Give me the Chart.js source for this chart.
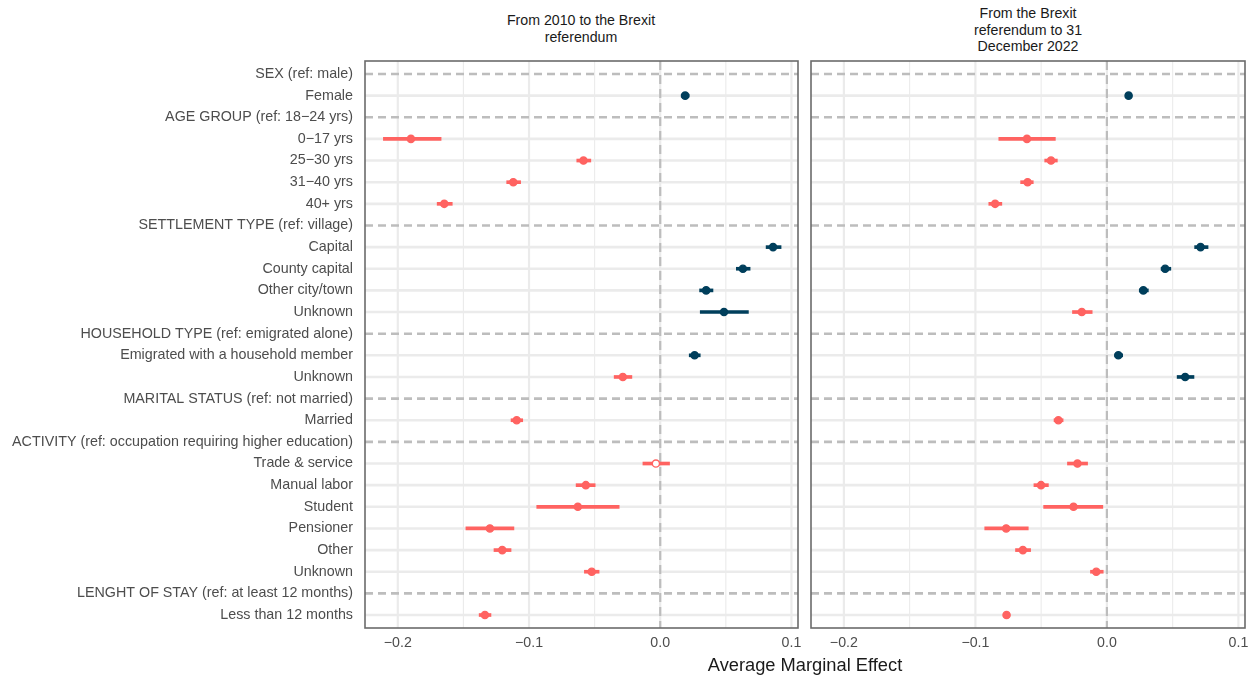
<!DOCTYPE html>
<html>
<head>
<meta charset="utf-8">
<script src="https://cdn.jsdelivr.net/npm/chart.js@4.4.0/dist/chart.umd.min.js"></script>
<style>
    html, body { margin: 0; padding: 0; background: #ffffff; }
    body { width: 1256px; height: 677px; position: relative; overflow: hidden; font-family: "Liberation Sans", Arial, sans-serif; }
    .panel-title { position: absolute; text-align: center; font-size: 14.2px; line-height: 16.5px; color: #1a1a1a; width: 300px; }
    #leftWrap { position: absolute; left: 0; top: 0; width: 805px; height: 677px; }
    #rightWrap { position: absolute; left: 805px; top: 0; width: 451px; height: 677px; }
    #xTitle { position: absolute; left: 0; width: 1610px; top: 654px; text-align: center; font-size: 18.3px; color: #1a1a1a; }
</style>
</head>
<body>
<div class="panel-title" style="left: 431px; top: 12px;">From 2010 to the Brexit<br>referendum</div>
<div class="panel-title" style="left: 878px; top: 5px;">From the Brexit<br>referendum to 31<br>December 2022</div>
<div id="leftWrap"><canvas id="leftChart"></canvas></div>
<div id="rightWrap"><canvas id="rightChart"></canvas></div>
<div id="xTitle">Average Marginal Effect</div>

<script>
const rowLabels = [
    'SEX (ref: male)', 'Female',
    'AGE GROUP (ref: 18\u221224 yrs)', '0\u221217 yrs', '25\u221230 yrs', '31\u221240 yrs', '40+ yrs',
    'SETTLEMENT TYPE (ref: village)', 'Capital', 'County capital', 'Other city/town', 'Unknown',
    'HOUSEHOLD TYPE (ref: emigrated alone)', 'Emigrated with a household member', 'Unknown',
    'MARITAL STATUS (ref: not married)', 'Married',
    'ACTIVITY (ref: occupation requiring higher education)', 'Trade & service', 'Manual labor', 'Student', 'Pensioner', 'Other', 'Unknown',
    'LENGHT OF STAY (ref: at least 12 months)', 'Less than 12 months'
];
const headerRows = [0, 2, 7, 12, 15, 17, 24];

// 2010 -> Brexit referendum
const preEst  = [null, 0.019, null, -0.190, -0.0585, -0.112, -0.1646, null, 0.086, 0.063, 0.035, 0.0486, null, 0.0262, -0.0285, null, -0.1094, null, -0.0033, -0.0567, -0.0628, -0.1298, -0.1204, -0.0522, null, -0.1336];
const preLow  = [null, 0.016, null, -0.211, -0.0636, -0.117, -0.170, null, 0.0807, 0.058, 0.030, 0.0305, null, 0.0221, -0.0351, null, -0.1137, null, -0.0132, -0.0641, -0.0941, -0.1481, -0.1267, -0.0578, null, -0.138];
const preHigh = [null, 0.022, null, -0.167, -0.0529, -0.1064, -0.1585, null, 0.0921, 0.0685, 0.0402, 0.0672, null, 0.0305, -0.0216, null, -0.1048, null, 0.0071, -0.0496, -0.0313, -0.1115, -0.1137, -0.0466, null, -0.129];

// Brexit referendum -> 31 December 2022
const postEst  = [null, 0.0165, null, -0.0608, -0.0425, -0.0603, -0.085, null, 0.0712, 0.0443, 0.0277, -0.0191, null, 0.0087, 0.0595, null, -0.0369, null, -0.0224, -0.0501, -0.0254, -0.0766, -0.0639, -0.0081, null, -0.0763];
const postLow  = [null, 0.0145, null, -0.0822, -0.0473, -0.0656, -0.0898, null, 0.0667, 0.0412, 0.0246, -0.0262, null, 0.006, 0.0534, null, -0.0402, null, -0.030, -0.0555, -0.0481, -0.0929, -0.0695, -0.0125, null, -0.0783];
const postHigh = [null, 0.0185, null, -0.0392, -0.0377, -0.056, -0.0799, null, 0.0769, 0.0486, 0.0315, -0.0112, null, 0.012, 0.0662, null, -0.0333, null, -0.0147, -0.0445, -0.0031, -0.0598, -0.058, -0.0028, null, -0.0743];

const xTicks = [-0.2, -0.1, 0.0, 0.1];
const xMinorTicks = [-0.15, -0.05, 0.05];

const RED = '#ff6361';
const BLUE = '#003f5c';
const FONT = '"Liberation Sans", Arial, sans-serif';

const panelGrid = {
    id: 'panelGrid',
    beforeDatasetsDraw(chart) {
        const { ctx, chartArea: a, scales: { x, y } } = chart;
        ctx.save();
        ctx.beginPath();
        ctx.rect(a.left, a.top, a.width, a.height);
        ctx.clip();

        const vline = (v, w, color, dash) => {
            const px = x.getPixelForValue(v);
            ctx.beginPath();
            ctx.setLineDash(dash);
            ctx.lineWidth = w;
            ctx.strokeStyle = color;
            ctx.moveTo(px, a.top);
            ctx.lineTo(px, a.bottom);
            ctx.stroke();
        };
        const hline = (i, w, color, dash) => {
            const py = y.getPixelForValue(i);
            ctx.beginPath();
            ctx.setLineDash(dash);
            ctx.lineWidth = w;
            ctx.strokeStyle = color;
            ctx.moveTo(a.left, py);
            ctx.lineTo(a.right, py);
            ctx.stroke();
        };

        xMinorTicks.forEach(v => vline(v, 1.1, '#ebebeb', []));
        xTicks.forEach(v => vline(v, 2.2, '#ebebeb', []));
        rowLabels.forEach((_, i) => {
            if (!headerRows.includes(i)) hline(i, 2.6, '#ebebeb', []);
        });
        rowLabels.forEach((_, i) => {
            if (headerRows.includes(i)) hline(i, 2.6, '#bdbdbd', [8, 5]);
        });
        vline(0, 2.2, '#bdbdbd', [9, 5]);
        ctx.restore();
    },
    afterDraw(chart) {
        const { ctx, chartArea: a } = chart;
        ctx.save();
        ctx.strokeStyle = '#6b6b6b';
        ctx.lineWidth = 1.6;
        ctx.strokeRect(a.left, a.top, a.width, a.height);
        ctx.restore();
    }
};

function buildDatasets(est, low, high) {
    const points = [], bars = [], pointFill = [], pointColor = [], barColor = [];
    est.forEach((v, i) => {
        if (v === null) return;
        const color = v < 0 ? RED : BLUE;
        const crossesZero = low[i] < 0 && high[i] > 0;
        points.push({ x: v, y: i });
        pointColor.push(color);
        pointFill.push(crossesZero ? '#ffffff' : color);
        bars.push({ y: i, x: [low[i], high[i]] });
        barColor.push(color);
    });
    return [
        {
            type: 'scatter',
            data: points,
            backgroundColor: pointFill,
            borderColor: pointColor,
            borderWidth: 1.4,
            pointRadius: 3.6,
            order: 0
        },
        {
            type: 'bar',
            indexAxis: 'y',
            data: bars,
            backgroundColor: barColor,
            borderWidth: 0,
            barThickness: 3,
            order: 1
        }
    ];
}

function makePanel(canvasId, est, low, high, showLabels) {
    const ctx = document.getElementById(canvasId).getContext('2d');
    return new Chart(ctx, {
        type: 'scatter',
        data: { datasets: buildDatasets(est, low, high) },
        plugins: [panelGrid],
        options: {
            responsive: true,
            maintainAspectRatio: false,
            animation: false,
            layout: {
                padding: showLabels ? { left: 0, right: 7, top: 61, bottom: 0 } : { left: 6, right: 11, top: 61, bottom: 0 }
            },
            plugins: {
                legend: { display: false },
                tooltip: { enabled: false },
                title: { display: false }
            },
            scales: {
                x: {
                    type: 'linear',
                    min: -0.225,
                    max: 0.105,
                    offset: false,
                    afterBuildTicks: s => { s.ticks = xTicks.map(v => ({ value: v })); },
                    afterFit: s => { s.height = 49; s.paddingLeft = 0; s.paddingRight = 0; },
                    ticks: {
                        callback: v => (v < -1e-9 ? '\u2212' : '') + Math.abs(v).toFixed(1),
                        color: '#4d4d4d',
                        font: { size: 14.2, family: FONT },
                        padding: 7,
                        maxRotation: 0,
                        autoSkip: false
                    },
                    grid: { display: false, drawTicks: false, offset: false },
                    border: { display: false }
                },
                y: {
                    type: 'linear',
                    reverse: true,
                    min: -0.6,
                    max: 25.6,
                    offset: false,
                    display: showLabels,
                    afterBuildTicks: s => { s.ticks = rowLabels.map((_, i) => ({ value: i })); },
                    afterFit: s => {
                        if (showLabels) s.width = 365;
                        s.paddingTop = 0;
                        s.paddingBottom = 0;
                    },
                    ticks: {
                        callback: v => rowLabels[v],
                        color: '#4d4d4d',
                        font: { size: 14.3, family: FONT },
                        padding: 12,
                        autoSkip: false
                    },
                    grid: { display: false, drawTicks: false, offset: false },
                    border: { display: false }
                }
            }
        }
    });
}

makePanel('leftChart', preEst, preLow, preHigh, true);
makePanel('rightChart', postEst, postLow, postHigh, false);
</script>
</body>
</html>
